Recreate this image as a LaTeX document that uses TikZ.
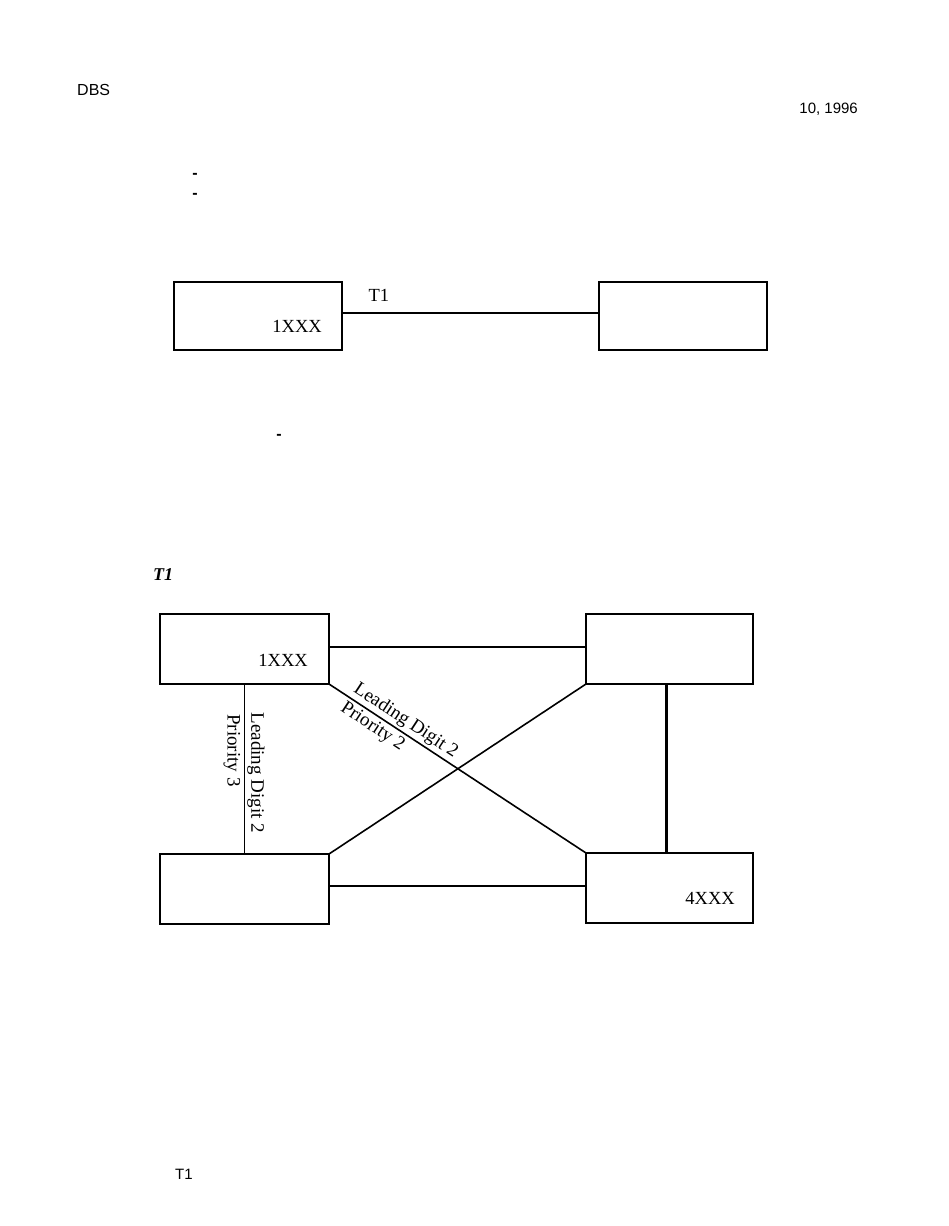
\documentclass[tikz,border=0pt]{standalone}
\usepackage{fontspec}
\setmainfont{Liberation Serif}
\newfontfamily\arialf{Liberation Sans}
\begin{document}
\begin{tikzpicture}[x=1pt,y=-1pt,
  box/.style={draw, line width=1.5pt, rectangle, anchor=north west, inner sep=0pt, outer sep=0pt},
  ln/.style={line width=1.6pt},
  lab/.style={font=\fontsize{18.5}{20}\selectfont, inner sep=0pt},
  elab/.style={font=\fontsize{19}{21}\selectfont, inner sep=2.5pt},
  hdr/.style={font=\arialf\fontsize{15}{17}\selectfont, inner sep=0pt},
  dashmark/.style={font=\arialf\bfseries\fontsize{16}{17}\selectfont, inner sep=0pt}]
\useasboundingbox (0,0) rectangle (949,1226);
\fill[white] (0,0) rectangle (949,1226);
% header
\node[hdr, anchor=base west, font=\arialf\fontsize{16}{17}\selectfont] (dbs) at (77,95) {DBS};
\node[hdr, anchor=base east] (date) at (858,113) {10, 1996};
\node[dashmark] (d1) at (195,176) {-};
\node[dashmark] (d2) at (195,196) {-};
\node[dashmark] (d3) at (279,437) {-};
% top diagram
\node[box, minimum width=168pt, minimum height=68pt] (L1) at (174,282) {};
\node[box, minimum width=168pt, minimum height=68pt] (R1) at (599,282) {};
\node[lab, anchor=base east] (l1txt) at (322,332) {1XXX};
\draw[ln] ([yshift=3pt]L1.east) -- node[lab, anchor=base west, pos=0.1, yshift=12pt] (t1lab) {T1} ([yshift=3pt]R1.west);
% T1 heading
\node[lab, anchor=base west, font=\fontsize{18}{20}\selectfont\bfseries\itshape] (t1h) at (153,580) {T1};
% bottom diagram
\node[box, minimum width=169pt, minimum height=70pt] (A) at (160,614) {};
\node[box, minimum width=167pt, minimum height=70pt] (B) at (586,614) {};
\node[box, minimum width=169pt, minimum height=70pt] (C) at (160,854) {};
\node[box, minimum width=167pt, minimum height=70pt] (D) at (586,853) {};
\node[lab, anchor=base east] (atxt) at (308,666) {1XXX};
\node[lab, anchor=base east] (dtxt) at (735,904) {4XXX};
\draw[ln] ([yshift=2pt]A.east) -- ([yshift=2pt]B.west);
\draw[ln] ([yshift=3pt]C.east) -- ([yshift=2pt]D.west);
\draw[line width=1pt] (A.south) -- (C.north);
\draw[line width=2.8pt] ([xshift=-3pt]B.south) -- ([xshift=-3pt]D.north);
\draw[ln] (A.south east) -- (D.north west);
\draw[ln] (C.north east) -- (B.south west);
% labels
\coordinate (vst) at ([yshift=-26pt]A.south);
\node[elab, rotate=-90, anchor=south west] (vl1) at (vst) {Leading Digit 2};
\node[elab, rotate=-90, anchor=north west, inner sep=4pt] (vl2) at (vst) {Priority 3};
\path (A.south east) -- node[elab, sloped, pos=0.07, anchor=south west] (dl1) {Leading Digit 2}
  node[elab, sloped, pos=0.065, anchor=north west, inner sep=3.5pt] (dl2) {Priority 2} (D.north west);
% footer
\node[hdr, anchor=base west] (t1f) at (175,1179) {T1};
\end{tikzpicture}
\end{document}
